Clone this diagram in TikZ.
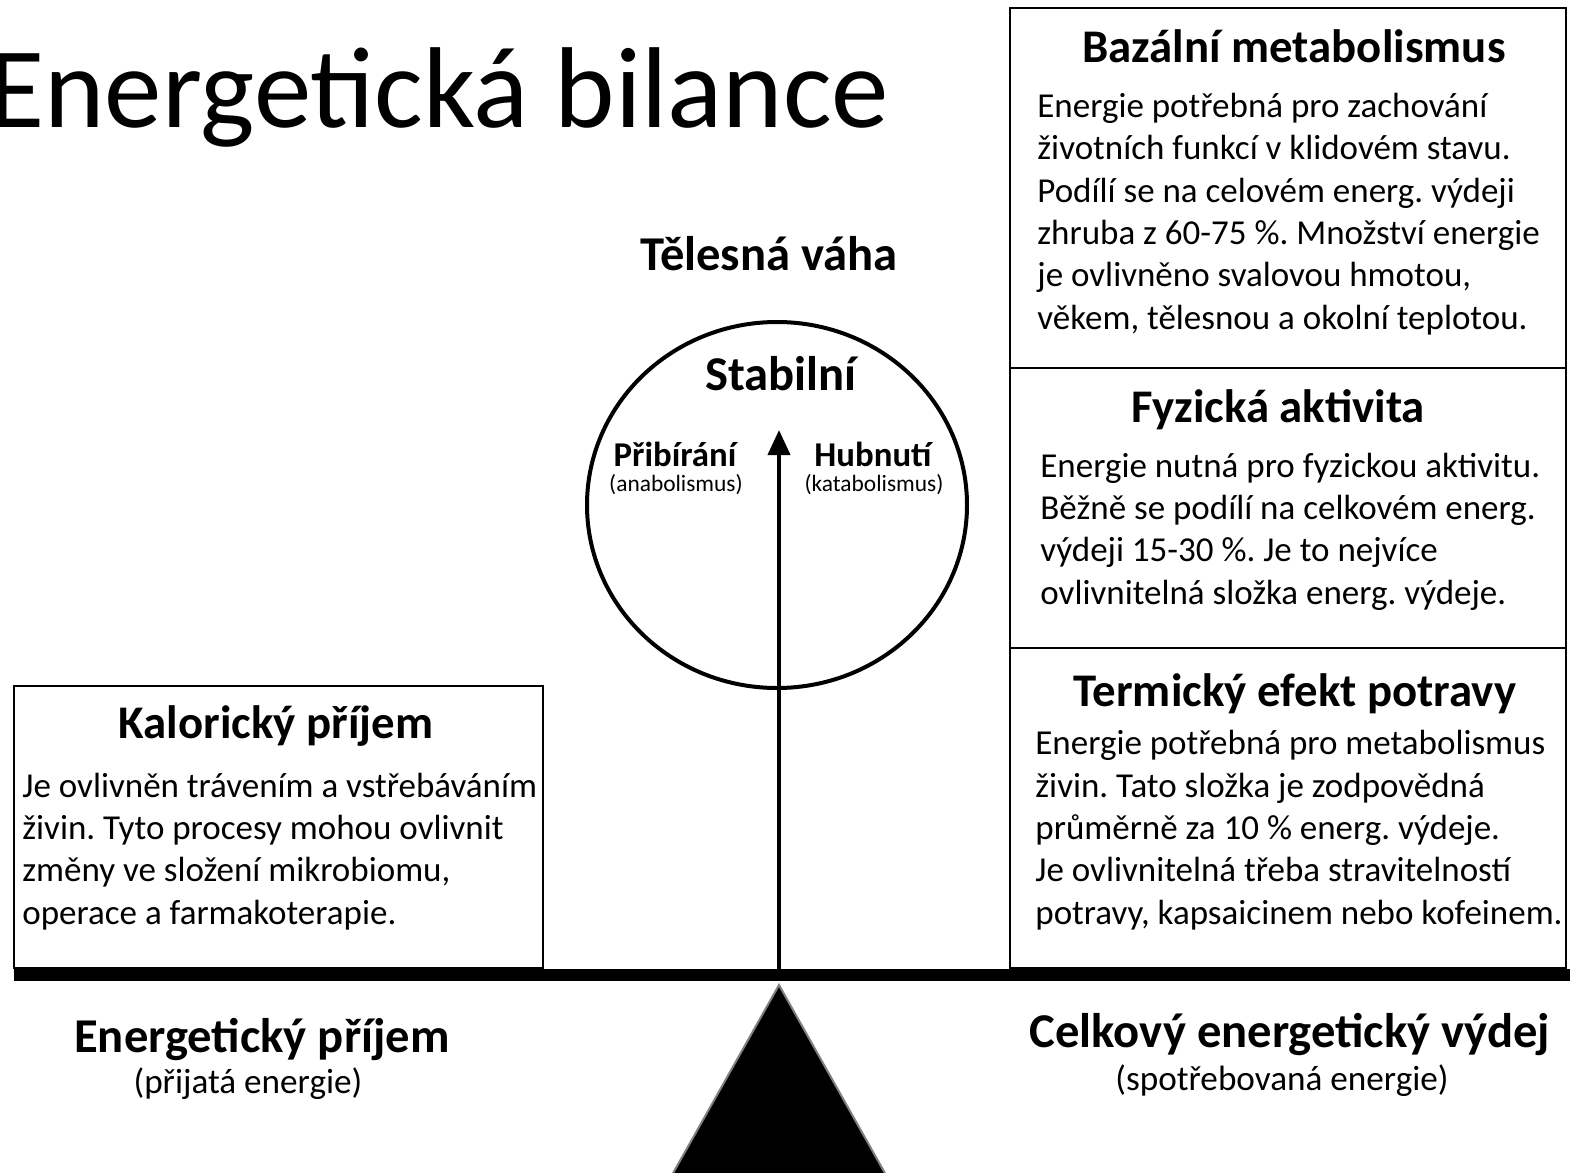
\documentclass[tikz,border=0pt]{standalone}
\usepackage{fontspec}
\setmainfont{Carlito}
\usepackage{tikz}
\usetikzlibrary{positioning, arrows.meta, shapes.geometric, fit}
\frenchspacing

\begin{document}
\begin{tikzpicture}[
    x=0.5pt, y=-0.5pt,
    panel/.style={draw=black, line width=1pt, inner sep=0pt},
    head/.style={font=\fontsize{24.3}{28}\selectfont\bfseries, inner sep=0pt, anchor=base},
    boxhead/.style={head, font=\fontsize{23.4}{27}\selectfont\bfseries},
    body/.style={font=\fontsize{17.5}{21.15}\selectfont, align=left, inner sep=0pt, anchor=base west},
    sub/.style={font=\fontsize{17.6}{20}\selectfont, inner sep=0pt, anchor=base},
    side/.style={font=\fontsize{17.4}{20}\selectfont\bfseries, inner sep=0pt, anchor=base},
    tiny/.style={font=\fontsize{11.7}{14}\selectfont, inner sep=0pt, anchor=base},
    arrow/.style={-{Triangle[length=12.5pt, width=11pt]}, line width=2pt}
]
\useasboundingbox (0,0) rectangle (1570,1173);

% Title
\node[font=\fontsize{57.5}{60}\selectfont, inner sep=0pt, anchor=base west] (title) at (-12,127) {Energetická bilance};

% Middle: scale with weight indicator
\node[head] (weight) at (769,270) {Tělesná váha};
\node[draw, ellipse, line width=2pt, minimum width=190pt, minimum height=183pt, inner sep=0pt] (scale) at (777,505) {};
\node[head] (stable) at (781,390) {Stabilní};
\node[side] (gain) at (675,466) {Přibírání};
\node[tiny] (gainSub) at (676,491) {(anabolismus)};
\node[side] (loss) at (873,466) {Hubnutí};
\node[tiny] (lossSub) at (874,491) {(katabolismus)};

\coordinate (armBase) at (779,969);
\coordinate (armTip) at (779,430);
\draw[arrow] (armBase) -- (armTip);

% beam and pivot
\coordinate (beamL) at (14,975);
\coordinate (beamR) at (1570,975);
\draw[line width=6pt] (beamL) -- (beamR);
\coordinate (pivot) at (779,985);
\filldraw[fill=black, draw=gray, line width=1pt] (pivot) -- (672,1175) -- (886,1175) -- cycle;

% Left: intake side
\node[panel, fit={(14,686)(543,968)}] (kalBox) {};
\node[boxhead] (kalHead) at (276,738) {Kalorický příjem};
\node[body] (kalText) at (22,924) {Je ovlivněn trávením a vstřebáváním\\
živin. Tyto procesy mohou ovlivnit\\
změny ve složení mikrobiomu,\\
operace a farmakoterapie.};

\node[head] (inHead) at (262,1052) {Energetický příjem};
\node[sub] (inSub) at (248,1093) {(přijatá energie)};

% Right: expenditure side
\node[panel, fit={(1010,8)(1566,368)}] (bazBox) {};
\node[boxhead] (bazHead) at (1294,62) {Bazální metabolismus};
\node[body] (bazText) at (1037,329) {Energie potřebná pro zachování\\
životních funkcí v klidovém stavu.\\
Podílí se na celovém energ. výdeji\\
zhruba z 60-75 \%. Množství energie\\
je ovlivněno svalovou hmotou,\\
věkem, tělesnou a okolní teplotou.};

\node[panel, fit={(1010,368)(1566,648)}] (fyzBox) {};
\node[boxhead] (fyzHead) at (1278,422) {Fyzická aktivita};
\node[body] (fyzText) at (1040,604) {Energie nutná pro fyzickou aktivitu.\\
Běžně se podílí na celkovém energ.\\
výdeji 15-30 \%. Je to nejvíce\\
ovlivnitelná složka energ. výdeje.};

\node[panel, fit={(1010,648)(1566,968)}] (termBox) {};
\node[boxhead] (termHead) at (1295,706) {Termický efekt potravy};
\node[body] (termText) at (1035,924) {Energie potřebná pro metabolismus\\
živin. Tato složka je zodpovědná\\
průměrně za 10 \% energ. výdeje.\\
Je ovlivnitelná třeba stravitelností\\
potravy, kapsaicinem nebo kofeinem.};

\node[head] (outHead) at (1290,1047) {Celkový energetický výdej};
\node[sub] (outSub) at (1282,1090) {(spotřebovaná energie)};

\end{tikzpicture}
\end{document}
